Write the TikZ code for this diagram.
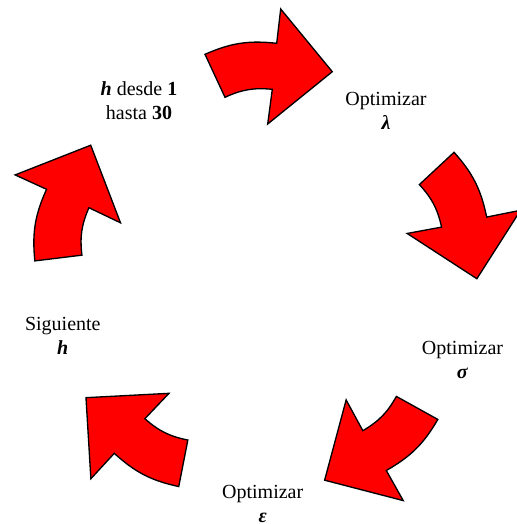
\documentclass[tikz,border=0pt]{standalone}
\usepackage{fontspec}
\setmainfont{Liberation Serif}
\begin{document}
\begin{tikzpicture}[x=0.6pt,y=-0.6pt,
    flecha/.style={fill=red,draw=black,line width=0.8pt,line join=miter},
    etiq/.style={align=center,font=\fontsize{12}{14.4}\selectfont,inner sep=0pt}]
\useasboundingbox (0,0) rectangle (516,524);
\coordinate (centro) at (262.1,274.7);
% cinco flechas curvas, giradas 72 grados
\foreach \ang in {0,-72,-144,-216,-288}
    \draw[flecha,rotate around={\ang:(centro)}] (205,54.3) to[bend left=15] (276.7,43.3) -- (280.7,9) -- (332.3,71.7) -- (267.7,124) -- (272.3,89.3) to[bend right=15] (225,97.3) -- cycle;
% etiquetas
\node[etiq] (inicio) at (139,101) {\textbf{\textit{h}} desde \textbf{1}\\hasta \textbf{30}};
\node[etiq] (lambda) at (386,110.5) {Optimizar\\\textbf{\textit{λ}}};
\node[etiq] (sigma) at (462.5,359.7) {Optimizar\\\textbf{\textit{σ}}};
\node[etiq] (epsilon) at (262.7,503.7) {Optimizar\\\textbf{\textit{ε}}};
\node[etiq] (siguiente) at (62.8,335.5) {Siguiente\\\textbf{\textit{h}}};
\end{tikzpicture}
\end{document}
